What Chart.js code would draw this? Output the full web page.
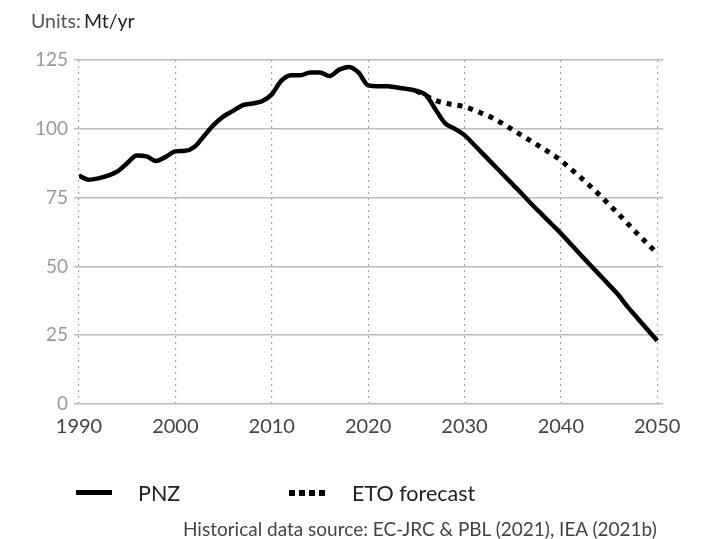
<!DOCTYPE html>
<html lang="en">
<head>
    <meta charset="UTF-8">
    <title>Units: Mt/yr</title>
    <script src="https://cdn.jsdelivr.net/npm/chart.js"></script>
    <style>
        body { margin: 0; background: #fff; font-family: Lato, "Noto Sans", sans-serif; }
        #wrap { position: relative; width: 714px; height: 539px; overflow: hidden; }
        #chart { position: absolute; left: 0; top: 0; }
        .units { position: absolute; left: 31px; top: 9px; font-size: 19.5px; color: #555; }
        .units b { font-weight: 400; color: #222; margin-left: 3px; }
        .key { position: absolute; top: 481px; font-size: 21.5px; color: #222; line-height: 24px; }
        .swatch { position: absolute; }
        .source { position: absolute; left: 183px; top: 517px; font-size: 19px; color: #444; white-space: nowrap; }
    </style>
</head>
<body>
<div id="wrap">
    <canvas id="chart" width="714" height="539"></canvas>

    <!-- units label -->
    <div class="units">Units:<b>Mt/yr</b></div>

    <!-- legend -->
    <div class="swatch" style="left:76px; top:490px; width:36px; height:5px; background:#000;"></div>
    <div class="key" style="left:138px;">PNZ</div>
    <div class="swatch" style="left:289px; top:490px; width:36px; height:6px;
         background:repeating-linear-gradient(90deg,#000 0 6px,transparent 6px 10px);"></div>
    <div class="key" style="left:352px;">ETO forecast</div>

    <div class="source">Historical data source: EC-JRC &amp; PBL (2021), IEA (2021b)</div>
</div>

<script>
    // years
    const pnzYears = [];
    for (let y = 1990; y <= 2050; y++) pnzYears.push(y);
    const etoYears = [];
    for (let y = 2025; y <= 2050; y++) etoYears.push(y);

    // PNZ (historical + pathway), Mt/yr
    const pnzValues = [
        83, 81.5, 82, 83, 84.5, 87.5, 90.3, 90, 88.3, 89.8,
        91.8, 92, 93.5, 97.5, 101.5, 104.5, 106.5, 108.6, 109.2, 110,
        112.5, 117.5, 119.5, 119.5, 120.5, 120.5, 119.2, 121.5, 122.5, 120.5,
        115.8, 115.5, 115.5, 115, 114.5, 113.8, 112.2, 107, 102, 100,
        97.7, 94.2, 90.6, 87, 83.4, 79.8, 76.2, 72.5, 69, 65.5,
        62, 58.2, 54.4, 50.7, 47, 43.3, 39.5, 35, 31, 27,
        23
    ];

    // ETO forecast, Mt/yr
    const etoValues = [
        113.8, 112, 110.3, 109.3, 108.7, 108, 106.8, 105.3, 103.8, 101.8,
        99.6, 97.5, 95.3, 93.2, 91, 88.5, 85.5, 82.5, 79.3, 76,
        72.5, 69, 65.3, 61.7, 58.2, 54.7
    ];

    const yTicks = [0, 25, 50, 75, 100, 125];
    const xTicks = [1990, 2000, 2010, 2020, 2030, 2040, 2050];

    const toPoints = (xs, ys) => xs.map((x, i) => ({ x: x, y: ys[i] }));

    new Chart(document.getElementById('chart'), {
        type: 'line',
        data: {
            datasets: [
                {
                    label: 'PNZ',
                    data: toPoints(pnzYears, pnzValues),
                    borderColor: '#000',
                    borderWidth: 4.5,
                    pointRadius: 0,
                    cubicInterpolationMode: 'monotone'
                },
                {
                    label: 'ETO forecast',
                    data: toPoints(etoYears, etoValues),
                    borderColor: '#000',
                    borderWidth: 5,
                    borderDash: [5, 6],
                    borderCapStyle: 'butt',
                    pointRadius: 0,
                    cubicInterpolationMode: 'monotone'
                }
            ]
        },
        options: {
            responsive: false,
            animation: false,
            layout: { padding: { left: 0, right: 51, top: 60, bottom: 95 } },
            plugins: {
                legend: { display: false },
                tooltip: { enabled: false }
            },
            scales: {
                x: {
                    type: 'linear',
                    min: 1990,
                    max: 2050.6,
                    afterFit: s => { s.height = 40; },
                    afterBuildTicks: s => { s.ticks = xTicks.map(v => ({ value: v })); },
                    ticks: {
                        includeBounds: false,
                        color: '#444',
                        padding: 11,
                        maxRotation: 0,
                        font: { family: 'Lato', size: 20 },
                        callback: v => String(v)
                    },
                    grid: { color: '#a8a8a8', lineWidth: 1.2, drawTicks: false },
                    border: { display: false, dash: [2, 4] }
                },
                y: {
                    min: 0,
                    max: 125,
                    afterFit: s => { s.width = 79; },
                    afterBuildTicks: s => { s.ticks = yTicks.map(v => ({ value: v })); },
                    ticks: {
                        color: '#9a9a9a',
                        padding: 6,
                        font: { family: 'Lato', size: 19 }
                    },
                    grid: { color: '#bcbcbc', lineWidth: 1.5, tickLength: 5 },
                    border: { display: false }
                }
            }
        }
    });
</script>
</body>
</html>
